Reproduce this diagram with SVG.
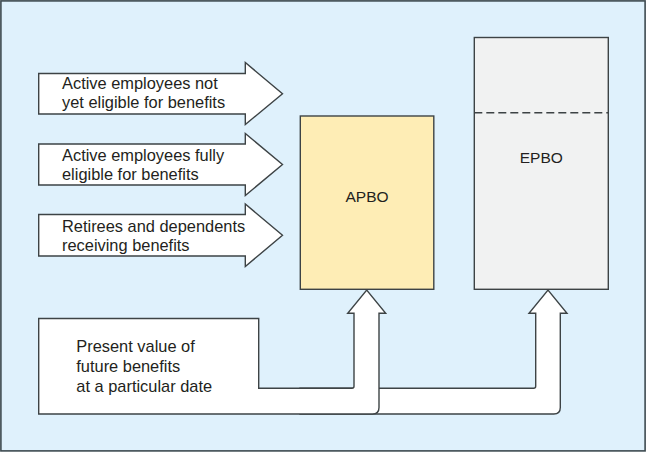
<svg xmlns="http://www.w3.org/2000/svg" width="646" height="452" viewBox="0 0 646 452">
<style>
.shape{fill:#ffffff;stroke:#3d4345;stroke-width:1.4;stroke-linejoin:miter}
.lbl{font-family:"Liberation Sans",Arial,sans-serif;font-size:16.4px;fill:#231f20}
.big{font-family:"Liberation Sans",Arial,sans-serif;font-size:15.5px;fill:#231f20;text-anchor:middle}
</style>
<rect x="0.9" y="0.9" width="644.2" height="450" fill="#dff1fc" stroke="#3d4a50" stroke-width="1.6"/>
<g id="arrow-not-eligible">
<polygon class="shape" points="38.7,73.5 245.3,73.5 245.3,62.5 282.5,93.7 245.3,124.5 245.3,114 38.7,114"/>
<text class="lbl" x="62" y="89">Active employees not</text>
<text class="lbl" x="62" y="108">yet eligible for benefits</text>
</g>
<g id="arrow-fully-eligible">
<polygon class="shape" points="38.7,144 245.3,144 245.3,133.5 282.5,164.5 245.3,195.5 245.3,185 38.7,185"/>
<text class="lbl" x="62" y="161">Active employees fully</text>
<text class="lbl" x="62" y="180">eligible for benefits</text>
</g>
<g id="arrow-retirees">
<polygon class="shape" points="38.7,214.5 245.3,214.5 245.3,204 282.5,235.3 245.3,266.5 245.3,256 38.7,256"/>
<text class="lbl" x="62" y="231.7">Retirees and dependents</text>
<text class="lbl" x="62" y="250.7">receiving benefits</text>
</g>
<g id="apbo">
<rect x="300.3" y="116" width="133.5" height="173.3" fill="#feedb5" stroke="#3d4345" stroke-width="1.4"/>
<text class="big" x="367" y="202">APBO</text>
</g>
<g id="epbo">
<rect x="474.3" y="37.5" width="134" height="251.8" fill="#f1f2f2" stroke="#3d4345" stroke-width="1.4"/>
<line x1="474.3" y1="112.7" x2="608.3" y2="112.7" stroke="#3d4345" stroke-width="1.4" stroke-dasharray="8,4"/>
<text class="big" x="541.3" y="163">EPBO</text>
</g>
<g id="connectors">
<path class="shape" d="M300,388.3 L533.7,388.3 Q535.7,388.3 535.7,386.3 L535.7,313.3 L529,313.3 L548,290 L567,313.3 L560.3,313.3 L560.3,407.5 Q560.3,414 553.8,414 L300,414 Z"/>
</g>
<g id="present-value">
<path class="shape" d="M38.7,318.5 L258.7,318.5 L258.7,388.3 L352,388.3 Q354,388.3 354,386.3 L354,313.3 L347.7,313.3 L366.7,290 L385.7,313.3 L379,313.3 L379,407.5 Q379,414 372.5,414 L38.7,414 Z"/>
<text class="lbl" x="76.3" y="352.3">Present value of</text>
<text class="lbl" x="76.3" y="372.3">future benefits</text>
<text class="lbl" x="76.3" y="391.7">at a particular date</text>
</g>
</svg>
